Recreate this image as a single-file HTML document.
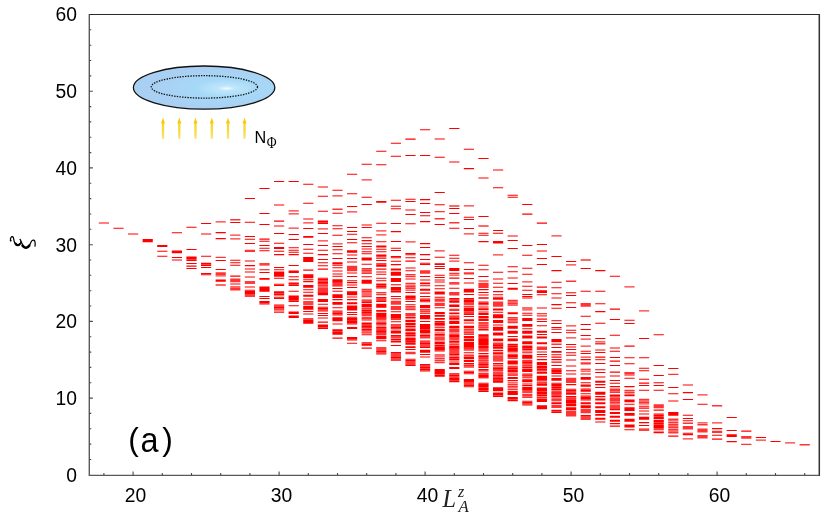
<!DOCTYPE html>
<html><head><meta charset="utf-8"><title>Entanglement spectrum</title>
<style>
html,body{margin:0;padding:0;background:#fff;}
body{width:830px;height:523px;overflow:hidden;font-family:"Liberation Sans",sans-serif;}
svg{display:block;will-change:transform;}
.tk text{font-family:"Liberation Sans",sans-serif;font-size:19.3px;fill:#000;}
</style></head><body>
<svg width="830" height="523" viewBox="0 0 830 523">
<defs>
<radialGradient id="eg" cx="0.66" cy="0.52" r="0.5" fx="0.66" fy="0.52" gradientTransform="translate(0.66 0.52) scale(1 0.9) translate(-0.66 -0.52)">
<stop offset="0" stop-color="#f4fbff"/><stop offset="0.12" stop-color="#bfe6fb"/><stop offset="0.45" stop-color="#a6d8f7"/><stop offset="1" stop-color="#a9d0f3"/>
</radialGradient>
<linearGradient id="ag" gradientUnits="userSpaceOnUse" x1="0" y1="118" x2="0" y2="139"><stop offset="0" stop-color="#f8d020"/><stop offset="0.7" stop-color="#f9da48"/><stop offset="1" stop-color="#fbe680"/></linearGradient>
</defs>
<rect width="830" height="523" fill="#fff"/>
<!-- data -->
<g>
<path d="M98.8 222.9h10.2M113.4 228.3h10.2M128.0 233.9h10.2M142.6 239.6h10.2M142.6 240.7h10.2M142.6 241.7h10.2M157.2 245.4h10.2M157.2 246.5h10.2M157.2 251.3h10.2M157.2 256.3h10.2M171.8 232.8h10.2M171.8 251.0h10.2M171.8 251.9h10.2M171.8 252.7h10.2M171.8 257.4h10.2M171.8 260.0h10.2M186.4 227.2h10.2M186.4 249.5h10.2M186.4 257.0h10.2M186.4 258.1h10.2M186.4 259.3h10.2M186.4 260.4h10.2M186.4 263.4h10.2M186.4 266.1h10.2M186.4 268.4h10.2M201.0 223.5h10.2M201.0 233.9h10.2M201.0 256.3h10.2M201.0 263.2h10.2M201.0 264.3h10.2M201.0 265.4h10.2M201.0 267.5h10.2M201.0 273.4h10.2M201.0 274.7h10.2M215.6 232.6h10.2M215.6 238.6h10.2M215.6 260.5h10.2M215.6 269.4h10.2M215.6 280.1h10.2M215.6 281.2h10.2M230.2 222.4h10.2M230.2 260.3h10.2M230.2 262.7h10.2M230.2 265.3h10.2M230.2 276.1h10.2M230.2 284.0h10.2M244.8 198.4h10.2M244.8 222.3h10.2M244.8 236.4h10.2M244.8 239.3h10.2M244.8 243.5h10.2M259.4 188.4h10.2M259.4 213.4h10.2M259.4 224.4h10.2M259.4 239.1h10.2M259.4 241.2h10.2M259.4 245.4h10.2M274.0 181.4h10.2M274.0 204.9h10.2M274.0 221.1h10.2M274.0 226.0h10.2M274.0 233.5h10.2M274.0 243.3h10.2M288.6 181.4h10.2M288.6 234.4h10.2M288.6 239.4h10.2M303.2 184.3h10.2M303.2 203.2h10.2M303.2 219.0h10.2M303.2 228.5h10.2M303.2 236.5h10.2M303.2 237.2h10.2M303.2 244.5h10.2M317.8 187.0h10.2M317.8 196.3h10.2M317.8 211.3h10.2M317.8 221.1h10.2M317.8 222.3h10.2M317.8 223.5h10.2M317.8 233.5h10.2M317.8 245.4h10.2M332.4 190.3h10.2M332.4 213.2h10.2M332.4 225.8h10.2M332.4 228.7h10.2M332.4 235.2h10.2M332.4 246.4h10.2M347.0 174.3h10.2M347.0 193.8h10.2M347.0 206.5h10.2M347.0 227.5h10.2M347.0 231.5h10.2M347.0 234.2h10.2M347.0 239.4h10.2M347.0 242.7h10.2M361.6 164.3h10.2M361.6 197.2h10.2M361.6 204.4h10.2M361.6 225.0h10.2M361.6 227.5h10.2M361.6 237.7h10.2M361.6 240.6h10.2M361.6 243.7h10.2M361.6 246.4h10.2M376.2 151.3h10.2M376.2 164.8h10.2M376.2 201.4h10.2M376.2 202.3h10.2M376.2 223.3h10.2M376.2 241.8h10.2M376.2 246.0h10.2M244.8 261.0h10.2M244.8 265.6h10.2M244.8 268.9h10.2M244.8 272.0h10.2M244.8 277.0h10.2M244.8 281.7h10.2M244.8 283.1h10.2M244.8 287.0h10.2M244.8 290.2h10.2M244.8 291.4h10.2M244.8 292.6h10.2M244.8 293.8h10.2M244.8 295.0h10.2M244.8 296.2h10.2M259.4 248.3h10.2M259.4 250.8h10.2M259.4 263.8h10.2M259.4 264.9h10.2M259.4 269.7h10.2M259.4 272.4h10.2M259.4 278.5h10.2M259.4 279.2h10.2M259.4 286.9h10.2M259.4 288.0h10.2M259.4 289.1h10.2M259.4 290.2h10.2M259.4 291.3h10.2M259.4 296.5h10.2M259.4 298.4h10.2M259.4 301.4h10.2M259.4 302.6h10.2M259.4 303.9h10.2M274.0 247.4h10.2M274.0 248.4h10.2M274.0 251.2h10.2M274.0 254.6h10.2M274.0 267.4h10.2M274.0 269.7h10.2M274.0 272.1h10.2M274.0 273.2h10.2M274.0 274.2h10.2M274.0 275.3h10.2M274.0 276.3h10.2M274.0 278.2h10.2M274.0 284.2h10.2M274.0 285.4h10.2M274.0 291.8h10.2M274.0 292.8h10.2M274.0 293.9h10.2M274.0 295.0h10.2M274.0 297.2h10.2M274.0 298.5h10.2M274.0 304.9h10.2M274.0 306.2h10.2M274.0 307.5h10.2M274.0 308.8h10.2M274.0 310.0h10.2M274.0 312.1h10.2M288.6 247.7h10.2M288.6 250.2h10.2M288.6 252.3h10.2M288.6 254.6h10.2M288.6 265.4h10.2M288.6 270.9h10.2M288.6 271.7h10.2M288.6 272.5h10.2M288.6 276.8h10.2M288.6 279.7h10.2M288.6 283.1h10.2M288.6 284.2h10.2M288.6 285.4h10.2M288.6 291.3h10.2M288.6 296.0h10.2M288.6 297.1h10.2M288.6 298.2h10.2M288.6 299.2h10.2M288.6 300.3h10.2M288.6 301.4h10.2M288.6 305.7h10.2M288.6 312.0h10.2M288.6 312.8h10.2M288.6 313.5h10.2M288.6 315.9h10.2M288.6 316.6h10.2M288.6 317.4h10.2M303.2 249.2h10.2M303.2 253.3h10.2M303.2 257.5h10.2M303.2 258.5h10.2M303.2 259.5h10.2M303.2 260.5h10.2M303.2 261.5h10.2M303.2 270.1h10.2M303.2 274.8h10.2M303.2 275.8h10.2M303.2 276.7h10.2M303.2 277.7h10.2M303.2 279.7h10.2M303.2 281.6h10.2M303.2 285.4h10.2M303.2 286.3h10.2M303.2 287.3h10.2M303.2 289.7h10.2M303.2 292.2h10.2M303.2 295.2h10.2M303.2 296.2h10.2M303.2 299.0h10.2M303.2 301.8h10.2M303.2 303.0h10.2M303.2 304.3h10.2M303.2 306.2h10.2M303.2 307.2h10.2M303.2 308.1h10.2M303.2 309.1h10.2M303.2 311.5h10.2M303.2 314.0h10.2M303.2 318.8h10.2M303.2 319.9h10.2M303.2 321.0h10.2M303.2 322.1h10.2M303.2 323.2h10.2M317.8 250.2h10.2M317.8 254.6h10.2M317.8 259.5h10.2M317.8 262.7h10.2M317.8 265.8h10.2M317.8 269.1h10.2M317.8 278.3h10.2M317.8 279.5h10.2M317.8 280.7h10.2M317.8 281.9h10.2M317.8 283.1h10.2M317.8 292.7h10.2M317.8 293.8h10.2M317.8 294.8h10.2M317.8 299.5h10.2M317.8 300.4h10.2M317.8 301.4h10.2M317.8 304.2h10.2M317.8 307.2h10.2M317.8 308.5h10.2M317.8 309.7h10.2M317.8 311.0h10.2M317.8 313.4h10.2M317.8 315.4h10.2M317.8 317.9h10.2M317.8 322.1h10.2M317.8 324.9h10.2M317.8 326.1h10.2M317.8 327.2h10.2M317.8 328.4h10.2M332.4 249.8h10.2M332.4 253.7h10.2M332.4 258.5h10.2M332.4 262.8h10.2M332.4 263.8h10.2M332.4 265.2h10.2M332.4 267.7h10.2M332.4 271.0h10.2M332.4 273.9h10.2M332.4 276.2h10.2M332.4 279.7h10.2M332.4 280.7h10.2M332.4 281.6h10.2M332.4 286.0h10.2M332.4 288.4h10.2M332.4 291.3h10.2M332.4 294.7h10.2M332.4 295.6h10.2M332.4 296.6h10.2M332.4 297.5h10.2M332.4 299.6h10.2M332.4 302.4h10.2M332.4 303.3h10.2M332.4 304.3h10.2M332.4 307.7h10.2M332.4 311.0h10.2M332.4 312.3h10.2M332.4 313.6h10.2M332.4 314.9h10.2M332.4 317.8h10.2M332.4 318.7h10.2M332.4 319.7h10.2M332.4 320.6h10.2M332.4 324.0h10.2M332.4 329.7h10.2M332.4 330.8h10.2M332.4 331.9h10.2M332.4 333.0h10.2M332.4 334.1h10.2M332.4 338.1h10.2M347.0 250.7h10.2M347.0 251.5h10.2M347.0 252.2h10.2M347.0 255.0h10.2M347.0 258.5h10.2M347.0 262.0h10.2M347.0 273.0h10.2M347.0 276.4h10.2M347.0 280.7h10.2M347.0 282.6h10.2M347.0 284.9h10.2M347.0 287.4h10.2M347.0 291.8h10.2M347.0 292.7h10.2M347.0 293.7h10.2M347.0 294.6h10.2M347.0 297.0h10.2M347.0 299.6h10.2M347.0 302.8h10.2M347.0 303.8h10.2M347.0 306.0h10.2M347.0 307.1h10.2M347.0 308.0h10.2M347.0 309.1h10.2M347.0 310.0h10.2M347.0 312.5h10.2M347.0 314.4h10.2M347.0 317.3h10.2M347.0 318.6h10.2M347.0 319.7h10.2M347.0 321.6h10.2M347.0 322.7h10.2M347.0 324.0h10.2M347.0 327.4h10.2M347.0 328.4h10.2M347.0 337.6h10.2M347.0 338.8h10.2M347.0 339.9h10.2M347.0 343.3h10.2M361.6 248.9h10.2M361.6 251.7h10.2M361.6 253.7h10.2M361.6 258.0h10.2M361.6 259.0h10.2M361.6 259.9h10.2M361.6 264.3h10.2M361.6 276.8h10.2M361.6 280.2h10.2M361.6 281.2h10.2M361.6 282.1h10.2M361.6 283.1h10.2M361.6 299.9h10.2M361.6 301.3h10.2M361.6 302.6h10.2M361.6 304.4h10.2M361.6 305.4h10.2M361.6 306.4h10.2M361.6 307.9h10.2M361.6 310.4h10.2M361.6 311.7h10.2M361.6 312.7h10.2M361.6 314.0h10.2M361.6 315.2h10.2M361.6 317.3h10.2M361.6 320.0h10.2M361.6 323.0h10.2M361.6 324.1h10.2M361.6 326.6h10.2M361.6 329.1h10.2M361.6 330.1h10.2M361.6 333.0h10.2M361.6 334.8h10.2M361.6 342.8h10.2M361.6 344.0h10.2M361.6 345.1h10.2M361.6 348.1h10.2M376.2 246.9h10.2M376.2 249.2h10.2M376.2 251.7h10.2M376.2 255.1h10.2M376.2 256.1h10.2M376.2 258.1h10.2M376.2 260.4h10.2M376.2 263.8h10.2M376.2 265.0h10.2M376.2 266.1h10.2M376.2 269.1h10.2M376.2 272.0h10.2M376.2 274.3h10.2M376.2 278.2h10.2M376.2 280.7h10.2M376.2 284.1h10.2M376.2 285.3h10.2M376.2 286.6h10.2M376.2 287.9h10.2M376.2 297.5h10.2M376.2 298.8h10.2M376.2 300.1h10.2M376.2 301.4h10.2M376.2 304.3h10.2M376.2 305.2h10.2M376.2 306.2h10.2M376.2 307.2h10.2M376.2 310.5h10.2M376.2 311.7h10.2M376.2 313.5h10.2M376.2 314.4h10.2M376.2 315.5h10.2M376.2 316.6h10.2M376.2 318.8h10.2M376.2 320.0h10.2M376.2 322.1h10.2M376.2 323.4h10.2M376.2 324.3h10.2M376.2 325.9h10.2M376.2 327.4h10.2M376.2 330.8h10.2M376.2 331.8h10.2M376.2 336.5h10.2M376.2 337.5h10.2M376.2 338.6h10.2M376.2 340.8h10.2M376.2 347.7h10.2M376.2 348.9h10.2M376.2 350.2h10.2M376.2 351.5h10.2M376.2 352.7h10.2M376.2 354.0h10.2M390.8 143.3h10.2M390.8 156.3h10.2M390.8 200.2h10.2M405.4 139.1h10.2M405.4 155.5h10.2M405.4 199.3h10.2M405.4 201.4h10.2M420.0 129.7h10.2M420.0 155.5h10.2M420.0 199.6h10.2M420.0 203.5h10.2M434.6 138.9h10.2M434.6 157.2h10.2M434.6 192.5h10.2M434.6 204.7h10.2M449.2 128.5h10.2M449.2 161.9h10.2M463.8 149.3h10.2M463.8 168.6h10.2M478.4 158.4h10.2M478.4 177.9h10.2M493.0 170.0h10.2M493.0 187.7h10.2M507.6 195.2h10.2M507.6 197.3h10.2M522.2 204.5h10.2M390.8 206.2h10.2M390.8 208.7h10.2M390.8 223.5h10.2M390.8 231.6h10.2M390.8 241.4h10.2M390.8 248.2h10.2M390.8 250.5h10.2M390.8 256.4h10.2M390.8 257.7h10.2M390.8 261.3h10.2M390.8 264.6h10.2M390.8 268.9h10.2M390.8 269.9h10.2M390.8 272.2h10.2M390.8 273.2h10.2M390.8 274.1h10.2M390.8 275.1h10.2M390.8 278.6h10.2M390.8 279.5h10.2M390.8 280.5h10.2M390.8 281.4h10.2M390.8 284.8h10.2M390.8 287.6h10.2M390.8 288.7h10.2M390.8 289.8h10.2M390.8 290.9h10.2M390.8 292.0h10.2M390.8 296.4h10.2M405.4 210.0h10.2M405.4 214.5h10.2M405.4 223.7h10.2M405.4 253.5h10.2M405.4 254.8h10.2M405.4 257.8h10.2M405.4 261.1h10.2M405.4 267.9h10.2M405.4 270.7h10.2M405.4 279.0h10.2M405.4 292.5h10.2M405.4 295.9h10.2M405.4 296.7h10.2M405.4 297.4h10.2M420.0 212.5h10.2M420.0 215.8h10.2M420.0 221.6h10.2M420.0 243.6h10.2M420.0 247.4h10.2M420.0 254.6h10.2M420.0 259.4h10.2M420.0 263.2h10.2M420.0 264.5h10.2M420.0 276.5h10.2M420.0 280.0h10.2M420.0 283.0h10.2M420.0 283.7h10.2M420.0 285.8h10.2M420.0 289.2h10.2M420.0 290.1h10.2M420.0 293.1h10.2M420.0 296.4h10.2M434.6 224.5h10.2M434.6 257.3h10.2M434.6 263.7h10.2M434.6 264.5h10.2M434.6 266.5h10.2M434.6 268.4h10.2M434.6 275.2h10.2M434.6 277.5h10.2M434.6 280.0h10.2M434.6 281.9h10.2M434.6 285.8h10.2M434.6 288.7h10.2M434.6 292.1h10.2M434.6 293.0h10.2M434.6 294.0h10.2M434.6 297.2h10.2M449.2 208.5h10.2M449.2 213.5h10.2M449.2 228.3h10.2M449.2 255.3h10.2M449.2 258.2h10.2M449.2 268.4h10.2M449.2 269.4h10.2M449.2 270.4h10.2M449.2 278.1h10.2M449.2 282.8h10.2M449.2 283.9h10.2M449.2 288.3h10.2M463.8 217.3h10.2M463.8 219.5h10.2M463.8 228.5h10.2M463.8 262.7h10.2M463.8 269.4h10.2M463.8 278.5h10.2M463.8 282.9h10.2M463.8 289.2h10.2M463.8 290.1h10.2M463.8 291.1h10.2M463.8 292.0h10.2M463.8 294.5h10.2M478.4 216.4h10.2M478.4 233.2h10.2M478.4 235.3h10.2M478.4 241.6h10.2M478.4 265.2h10.2M478.4 269.8h10.2M478.4 276.5h10.2M478.4 281.0h10.2M478.4 289.6h10.2M478.4 292.5h10.2M478.4 295.0h10.2M478.4 297.7h10.2M493.0 230.5h10.2M493.0 233.3h10.2M493.0 241.4h10.2M493.0 242.1h10.2M493.0 242.9h10.2M493.0 272.3h10.2M493.0 279.0h10.2M493.0 283.3h10.2M493.0 287.3h10.2M493.0 291.6h10.2M493.0 294.8h10.2M493.0 297.3h10.2M507.6 236.0h10.2M507.6 240.5h10.2M507.6 248.4h10.2M507.6 266.7h10.2M507.6 271.7h10.2M507.6 277.9h10.2M507.6 283.5h10.2M507.6 288.2h10.2M507.6 289.1h10.2M522.2 214.1h10.2M522.2 245.5h10.2M522.2 255.3h10.2M522.2 268.2h10.2M522.2 274.2h10.2M522.2 286.2h10.2M522.2 290.2h10.2M522.2 294.5h10.2M522.2 296.4h10.2M390.8 298.8h10.2M390.8 311.7h10.2M390.8 314.5h10.2M390.8 315.5h10.2M390.8 316.4h10.2M390.8 317.4h10.2M390.8 321.7h10.2M390.8 324.7h10.2M390.8 326.9h10.2M390.8 327.9h10.2M390.8 331.0h10.2M390.8 332.0h10.2M390.8 332.9h10.2M390.8 335.4h10.2M390.8 336.8h10.2M390.8 337.9h10.2M390.8 339.4h10.2M390.8 341.0h10.2M390.8 342.0h10.2M390.8 345.4h10.2M390.8 352.4h10.2M390.8 353.7h10.2M390.8 355.0h10.2M390.8 356.3h10.2M390.8 357.6h10.2M390.8 358.9h10.2M390.8 360.2h10.2M405.4 301.4h10.2M405.4 304.8h10.2M405.4 317.2h10.2M405.4 318.0h10.2M405.4 320.2h10.2M405.4 320.9h10.2M405.4 321.6h10.2M405.4 323.5h10.2M405.4 324.6h10.2M405.4 326.2h10.2M405.4 327.0h10.2M405.4 329.0h10.2M405.4 329.8h10.2M405.4 330.6h10.2M405.4 332.8h10.2M405.4 333.6h10.2M405.4 334.3h10.2M405.4 335.4h10.2M405.4 337.0h10.2M405.4 338.4h10.2M405.4 339.6h10.2M405.4 341.6h10.2M405.4 343.0h10.2M405.4 344.1h10.2M405.4 346.7h10.2M405.4 347.5h10.2M405.4 349.4h10.2M405.4 359.2h10.2M405.4 360.5h10.2M405.4 361.7h10.2M405.4 363.0h10.2M405.4 364.2h10.2M405.4 365.5h10.2M420.0 299.1h10.2M420.0 300.4h10.2M420.0 301.7h10.2M420.0 305.4h10.2M420.0 306.6h10.2M420.0 307.8h10.2M420.0 315.4h10.2M420.0 316.5h10.2M420.0 317.5h10.2M420.0 318.6h10.2M420.0 321.5h10.2M420.0 324.4h10.2M420.0 325.5h10.2M420.0 326.6h10.2M420.0 327.7h10.2M420.0 328.8h10.2M420.0 329.9h10.2M420.0 331.0h10.2M420.0 332.0h10.2M420.0 333.0h10.2M420.0 334.9h10.2M420.0 336.1h10.2M420.0 341.0h10.2M420.0 342.3h10.2M420.0 343.6h10.2M420.0 344.9h10.2M420.0 346.2h10.2M420.0 347.5h10.2M420.0 350.3h10.2M420.0 351.3h10.2M420.0 352.3h10.2M420.0 354.5h10.2M420.0 357.0h10.2M420.0 364.5h10.2M420.0 365.8h10.2M420.0 367.1h10.2M420.0 368.3h10.2M420.0 369.6h10.2M420.0 370.9h10.2M434.6 307.8h10.2M434.6 312.4h10.2M434.6 313.1h10.2M434.6 313.8h10.2M434.6 315.4h10.2M434.6 316.2h10.2M434.6 318.4h10.2M434.6 319.2h10.2M434.6 321.4h10.2M434.6 322.2h10.2M434.6 323.5h10.2M434.6 324.6h10.2M434.6 329.5h10.2M434.6 330.6h10.2M434.6 333.0h10.2M434.6 334.5h10.2M434.6 335.7h10.2M434.6 337.2h10.2M434.6 338.8h10.2M434.6 339.9h10.2M434.6 342.0h10.2M434.6 343.0h10.2M434.6 344.0h10.2M434.6 345.6h10.2M434.6 346.2h10.2M434.6 347.6h10.2M434.6 348.8h10.2M434.6 349.7h10.2M434.6 351.0h10.2M434.6 369.4h10.2M434.6 370.5h10.2M434.6 371.6h10.2M434.6 372.7h10.2M434.6 373.8h10.2M434.6 374.9h10.2M434.6 376.1h10.2M449.2 298.5h10.2M449.2 299.8h10.2M449.2 301.1h10.2M449.2 302.3h10.2M449.2 305.1h10.2M449.2 305.8h10.2M449.2 306.5h10.2M449.2 313.0h10.2M449.2 313.8h10.2M449.2 316.0h10.2M449.2 317.3h10.2M449.2 318.5h10.2M449.2 319.8h10.2M449.2 321.4h10.2M449.2 322.4h10.2M449.2 323.4h10.2M449.2 326.2h10.2M449.2 326.9h10.2M449.2 327.6h10.2M449.2 333.0h10.2M449.2 334.7h10.2M449.2 335.7h10.2M449.2 336.8h10.2M449.2 338.0h10.2M449.2 339.2h10.2M449.2 341.1h10.2M449.2 342.2h10.2M449.2 344.1h10.2M449.2 346.1h10.2M449.2 347.3h10.2M449.2 348.2h10.2M449.2 350.7h10.2M449.2 351.9h10.2M449.2 353.2h10.2M449.2 354.4h10.2M449.2 357.2h10.2M449.2 358.2h10.2M449.2 359.4h10.2M449.2 360.9h10.2M449.2 363.1h10.2M449.2 363.8h10.2M449.2 364.5h10.2M449.2 367.4h10.2M449.2 368.5h10.2M449.2 373.7h10.2M449.2 374.9h10.2M449.2 376.0h10.2M449.2 377.2h10.2M449.2 378.4h10.2M449.2 379.5h10.2M449.2 380.7h10.2M449.2 381.8h10.2M463.8 298.5h10.2M463.8 299.3h10.2M463.8 300.4h10.2M463.8 301.6h10.2M463.8 303.0h10.2M463.8 304.2h10.2M463.8 306.3h10.2M463.8 308.1h10.2M463.8 309.1h10.2M463.8 310.1h10.2M463.8 311.0h10.2M463.8 314.5h10.2M463.8 316.4h10.2M463.8 319.7h10.2M463.8 320.7h10.2M463.8 323.0h10.2M463.8 326.2h10.2M463.8 326.9h10.2M463.8 327.6h10.2M463.8 336.5h10.2M463.8 337.2h10.2M463.8 337.9h10.2M463.8 339.6h10.2M463.8 340.8h10.2M463.8 342.4h10.2M463.8 343.5h10.2M463.8 344.6h10.2M463.8 345.7h10.2M463.8 346.6h10.2M463.8 348.8h10.2M463.8 352.7h10.2M463.8 357.6h10.2M463.8 358.6h10.2M463.8 360.5h10.2M463.8 361.5h10.2M463.8 363.5h10.2M463.8 365.8h10.2M463.8 371.3h10.2M463.8 372.5h10.2M463.8 373.8h10.2M463.8 379.4h10.2M463.8 380.6h10.2M463.8 381.8h10.2M463.8 383.0h10.2M463.8 384.2h10.2M463.8 385.4h10.2M463.8 386.7h10.2M478.4 298.3h10.2M478.4 302.1h10.2M478.4 303.4h10.2M478.4 304.7h10.2M478.4 307.0h10.2M478.4 308.8h10.2M478.4 309.6h10.2M478.4 311.9h10.2M478.4 313.6h10.2M478.4 314.4h10.2M478.4 316.6h10.2M478.4 317.4h10.2M478.4 319.0h10.2M478.4 319.7h10.2M478.4 320.4h10.2M478.4 322.7h10.2M478.4 323.9h10.2M478.4 328.9h10.2M478.4 330.0h10.2M478.4 334.8h10.2M478.4 335.7h10.2M478.4 338.7h10.2M478.4 339.8h10.2M478.4 340.8h10.2M478.4 341.8h10.2M478.4 342.7h10.2M478.4 343.6h10.2M478.4 344.8h10.2M478.4 346.0h10.2M478.4 346.9h10.2M478.4 348.1h10.2M478.4 349.7h10.2M478.4 350.9h10.2M478.4 353.5h10.2M478.4 355.2h10.2M478.4 356.5h10.2M478.4 360.0h10.2M478.4 362.7h10.2M478.4 364.0h10.2M478.4 365.0h10.2M478.4 366.2h10.2M478.4 367.4h10.2M478.4 369.6h10.2M478.4 370.9h10.2M478.4 373.2h10.2M478.4 375.4h10.2M478.4 376.6h10.2M478.4 383.2h10.2M478.4 384.4h10.2M478.4 385.6h10.2M478.4 386.8h10.2M478.4 387.9h10.2M478.4 389.1h10.2M478.4 390.3h10.2M478.4 391.5h10.2M493.0 298.4h10.2M493.0 299.3h10.2M493.0 309.0h10.2M493.0 309.9h10.2M493.0 312.3h10.2M493.0 314.8h10.2M493.0 315.7h10.2M493.0 316.7h10.2M493.0 317.6h10.2M493.0 320.6h10.2M493.0 321.5h10.2M493.0 322.5h10.2M493.0 324.9h10.2M493.0 327.3h10.2M493.0 328.3h10.2M493.0 329.2h10.2M493.0 330.2h10.2M493.0 333.1h10.2M493.0 334.0h10.2M493.0 335.0h10.2M493.0 338.9h10.2M493.0 339.8h10.2M493.0 340.8h10.2M493.0 345.2h10.2M493.0 346.2h10.2M493.0 347.4h10.2M493.0 348.8h10.2M493.0 350.6h10.2M493.0 352.8h10.2M493.0 353.8h10.2M493.0 356.8h10.2M493.0 358.1h10.2M493.0 359.7h10.2M493.0 360.9h10.2M493.0 363.4h10.2M493.0 365.1h10.2M493.0 366.9h10.2M493.0 368.3h10.2M493.0 369.2h10.2M493.0 372.0h10.2M493.0 373.3h10.2M493.0 374.7h10.2M493.0 375.6h10.2M493.0 377.0h10.2M493.0 378.3h10.2M493.0 379.2h10.2M493.0 381.2h10.2M493.0 382.2h10.2M507.6 312.8h10.2M507.6 313.8h10.2M507.6 326.3h10.2M507.6 327.3h10.2M507.6 328.2h10.2M507.6 331.2h10.2M507.6 332.1h10.2M507.6 333.1h10.2M507.6 336.4h10.2M507.6 338.9h10.2M507.6 339.8h10.2M507.6 340.8h10.2M507.6 344.2h10.2M507.6 345.3h10.2M507.6 346.6h10.2M507.6 347.9h10.2M507.6 348.9h10.2M507.6 349.9h10.2M507.6 351.0h10.2M507.6 354.3h10.2M507.6 355.6h10.2M507.6 356.8h10.2M507.6 358.1h10.2M507.6 361.0h10.2M507.6 362.0h10.2M507.6 362.9h10.2M507.6 363.9h10.2M507.6 366.3h10.2M507.6 367.7h10.2M507.6 368.8h10.2M507.6 369.9h10.2M507.6 370.9h10.2M507.6 371.9h10.2M507.6 375.1h10.2M507.6 377.4h10.2M507.6 378.5h10.2M507.6 380.6h10.2M522.2 297.9h10.2M522.2 313.3h10.2M522.2 315.2h10.2M522.2 318.6h10.2M522.2 319.6h10.2M522.2 320.5h10.2M522.2 324.4h10.2M522.2 325.4h10.2M522.2 326.3h10.2M522.2 328.7h10.2M522.2 331.2h10.2M522.2 332.1h10.2M522.2 333.1h10.2M522.2 336.0h10.2M522.2 336.9h10.2M522.2 337.9h10.2M522.2 341.8h10.2M522.2 342.7h10.2M522.2 343.7h10.2M522.2 346.1h10.2M522.2 347.3h10.2M522.2 348.3h10.2M522.2 349.5h10.2M522.2 350.9h10.2M522.2 352.7h10.2M522.2 355.3h10.2M522.2 356.2h10.2M522.2 357.2h10.2M522.2 358.1h10.2M522.2 361.7h10.2M522.2 362.8h10.2M522.2 363.9h10.2M522.2 367.0h10.2M522.2 368.0h10.2M522.2 369.4h10.2M522.2 370.4h10.2M522.2 371.5h10.2M522.2 374.0h10.2M522.2 375.2h10.2M522.2 377.7h10.2M522.2 379.8h10.2M522.2 380.8h10.2M522.2 381.8h10.2M522.2 384.0h10.2M522.2 385.6h10.2M522.2 387.6h10.2M522.2 388.8h10.2M522.2 389.7h10.2M522.2 390.9h10.2M522.2 392.2h10.2M493.0 387.7h10.2M493.0 388.7h10.2M493.0 389.6h10.2M493.0 390.6h10.2M493.0 392.9h10.2M493.0 394.1h10.2M493.0 395.2h10.2M493.0 396.4h10.2M507.6 391.6h10.2M507.6 392.5h10.2M507.6 393.5h10.2M507.6 394.4h10.2M507.6 397.4h10.2M507.6 398.5h10.2M507.6 399.7h10.2M507.6 400.8h10.2M522.2 401.2h10.2M522.2 402.5h10.2M522.2 403.8h10.2M522.2 405.0h10.2M536.8 223.1h10.2M536.8 244.5h10.2M536.8 250.9h10.2M536.8 258.4h10.2M536.8 264.4h10.2M536.8 287.1h10.2M536.8 290.7h10.2M536.8 291.6h10.2M536.8 292.4h10.2M536.8 294.8h10.2M551.4 256.5h10.2M551.4 270.6h10.2M551.4 282.3h10.2M551.4 287.7h10.2M551.4 293.7h10.2M566.0 261.5h10.2M566.0 292.7h10.2M566.0 295.4h10.2M580.6 268.4h10.2M580.6 291.2h10.2M595.2 270.6h10.2M595.2 291.2h10.2M609.8 276.3h10.2M536.8 307.9h10.2M536.8 313.7h10.2M536.8 319.1h10.2M536.8 321.4h10.2M536.8 325.7h10.2M536.8 331.2h10.2M536.8 332.1h10.2M536.8 334.5h10.2M536.8 336.9h10.2M536.8 337.9h10.2M536.8 342.7h10.2M536.8 343.7h10.2M536.8 351.9h10.2M536.8 354.4h10.2M536.8 356.7h10.2M536.8 359.6h10.2M536.8 362.5h10.2M536.8 363.4h10.2M536.8 364.5h10.2M536.8 366.0h10.2M536.8 367.0h10.2M536.8 368.0h10.2M536.8 369.2h10.2M536.8 370.1h10.2M536.8 372.0h10.2M536.8 373.1h10.2M536.8 376.3h10.2M536.8 377.3h10.2M536.8 378.2h10.2M536.8 379.2h10.2M536.8 380.2h10.2M536.8 382.0h10.2M536.8 383.2h10.2M536.8 384.4h10.2M536.8 388.0h10.2M536.8 388.8h10.2M536.8 389.5h10.2M551.4 297.9h10.2M551.4 304.6h10.2M551.4 308.3h10.2M551.4 323.5h10.2M551.4 327.4h10.2M551.4 329.3h10.2M551.4 332.4h10.2M551.4 339.5h10.2M551.4 340.6h10.2M551.4 341.7h10.2M551.4 347.4h10.2M551.4 351.4h10.2M551.4 352.3h10.2M551.4 354.8h10.2M551.4 357.1h10.2M551.4 359.6h10.2M551.4 362.1h10.2M551.4 365.4h10.2M551.4 368.8h10.2M551.4 369.9h10.2M551.4 371.1h10.2M551.4 372.3h10.2M551.4 373.5h10.2M551.4 376.0h10.2M551.4 378.4h10.2M551.4 379.3h10.2M551.4 380.3h10.2M551.4 383.2h10.2M551.4 384.4h10.2M551.4 385.5h10.2M551.4 386.7h10.2M551.4 387.8h10.2M551.4 389.0h10.2M566.0 302.7h10.2M566.0 307.5h10.2M566.0 330.3h10.2M566.0 344.5h10.2M566.0 347.0h10.2M566.0 349.4h10.2M566.0 352.8h10.2M566.0 355.3h10.2M566.0 360.0h10.2M566.0 365.9h10.2M566.0 370.8h10.2M566.0 374.0h10.2M566.0 384.6h10.2M566.0 389.3h10.2M580.6 316.2h10.2M580.6 324.5h10.2M580.6 329.5h10.2M580.6 335.5h10.2M580.6 351.3h10.2M580.6 353.4h10.2M580.6 359.6h10.2M580.6 369.2h10.2M580.6 374.0h10.2M580.6 377.4h10.2M580.6 378.4h10.2M580.6 379.3h10.2M580.6 382.7h10.2M580.6 385.1h10.2M580.6 386.1h10.2M580.6 389.1h10.2M595.2 303.7h10.2M595.2 311.6h10.2M595.2 323.3h10.2M595.2 338.4h10.2M595.2 349.9h10.2M595.2 352.4h10.2M595.2 357.1h10.2M595.2 363.4h10.2M595.2 369.8h10.2M595.2 372.5h10.2M595.2 376.9h10.2M595.2 381.3h10.2M595.2 382.2h10.2M595.2 384.6h10.2M595.2 387.5h10.2M609.8 309.1h10.2M609.8 319.5h10.2M609.8 335.3h10.2M609.8 348.0h10.2M609.8 351.3h10.2M609.8 357.5h10.2M609.8 361.1h10.2M609.8 365.4h10.2M609.8 372.1h10.2M609.8 376.0h10.2M609.8 380.4h10.2M609.8 383.3h10.2M609.8 386.6h10.2M624.4 320.3h10.2M624.4 323.5h10.2M624.4 346.1h10.2M624.4 357.7h10.2M624.4 363.8h10.2M624.4 375.0h10.2M624.4 378.3h10.2M624.4 386.6h10.2M639.0 338.4h10.2M639.0 357.7h10.2M639.0 368.3h10.2M639.0 370.8h10.2M639.0 379.2h10.2M639.0 383.1h10.2M639.0 385.4h10.2M653.6 334.7h10.2M653.6 365.4h10.2M653.6 375.4h10.2M653.6 382.7h10.2M653.6 385.4h10.2M668.2 368.4h10.2M668.2 387.5h10.2M536.8 390.0h10.2M536.8 391.0h10.2M536.8 392.3h10.2M536.8 393.3h10.2M536.8 394.3h10.2M536.8 395.5h10.2M536.8 397.1h10.2M536.8 399.5h10.2M536.8 400.6h10.2M536.8 401.5h10.2M536.8 405.7h10.2M536.8 406.7h10.2M536.8 407.6h10.2M536.8 408.6h10.2M551.4 390.0h10.2M551.4 391.7h10.2M551.4 393.7h10.2M551.4 395.1h10.2M551.4 396.5h10.2M551.4 398.0h10.2M551.4 400.8h10.2M551.4 402.8h10.2M551.4 403.8h10.2M551.4 410.2h10.2M551.4 411.3h10.2M551.4 412.5h10.2M566.0 390.5h10.2M566.0 391.7h10.2M566.0 392.9h10.2M566.0 394.1h10.2M566.0 396.6h10.2M566.0 398.9h10.2M566.0 400.2h10.2M566.0 401.2h10.2M566.0 402.1h10.2M566.0 403.2h10.2M566.0 404.6h10.2M566.0 405.7h10.2M566.0 407.7h10.2M566.0 408.6h10.2M566.0 409.6h10.2M580.6 390.5h10.2M580.6 391.2h10.2M580.6 393.7h10.2M580.6 396.1h10.2M580.6 397.4h10.2M580.6 398.6h10.2M580.6 399.9h10.2M580.6 402.8h10.2M580.6 403.8h10.2M580.6 405.7h10.2M580.6 406.7h10.2M580.6 407.6h10.2M580.6 415.4h10.2M580.6 416.7h10.2M580.6 417.9h10.2M580.6 419.2h10.2M595.2 392.2h10.2M595.2 393.2h10.2M595.2 394.1h10.2M595.2 396.6h10.2M595.2 399.0h10.2M595.2 399.9h10.2M595.2 402.8h10.2M595.2 403.8h10.2M595.2 406.7h10.2M595.2 407.6h10.2M595.2 410.6h10.2M595.2 411.5h10.2M595.2 412.5h10.2M595.2 414.4h10.2M595.2 415.3h10.2M595.2 418.3h10.2M595.2 419.2h10.2M595.2 422.0h10.2M609.8 395.1h10.2M609.8 396.1h10.2M609.8 405.7h10.2M609.8 407.0h10.2M609.8 408.3h10.2M609.8 409.6h10.2M609.8 412.5h10.2M609.8 413.4h10.2M609.8 416.3h10.2M609.8 417.3h10.2M609.8 420.2h10.2M609.8 421.1h10.2M609.8 423.6h10.2M609.8 426.1h10.2M624.4 395.6h10.2M624.4 400.0h10.2M624.4 400.9h10.2M624.4 401.8h10.2M624.4 404.3h10.2M624.4 407.7h10.2M624.4 408.6h10.2M624.4 409.6h10.2M624.4 410.5h10.2M624.4 413.5h10.2M624.4 414.4h10.2M624.4 415.3h10.2M624.4 419.2h10.2M624.4 420.2h10.2M624.4 421.1h10.2M624.4 425.0h10.2M624.4 426.0h10.2M624.4 426.9h10.2M624.4 429.7h10.2M639.0 390.2h10.2M639.0 406.2h10.2M639.0 408.1h10.2M639.0 411.0h10.2M639.0 413.9h10.2M639.0 417.3h10.2M639.0 418.3h10.2M639.0 419.2h10.2M639.0 422.6h10.2M639.0 425.5h10.2M639.0 428.9h10.2M639.0 430.2h10.2M653.6 390.2h10.2M653.6 410.1h10.2M653.6 413.9h10.2M653.6 415.3h10.2M653.6 416.2h10.2M653.6 417.6h10.2M653.6 418.6h10.2M653.6 420.6h10.2M653.6 421.5h10.2M653.6 422.7h10.2M653.6 423.7h10.2M653.6 425.1h10.2M653.6 426.1h10.2M653.6 427.2h10.2M653.6 428.2h10.2M653.6 429.7h10.2M653.6 431.9h10.2M653.6 432.8h10.2M668.2 393.7h10.2M668.2 401.0h10.2M668.2 412.5h10.2M668.2 413.4h10.2M668.2 414.4h10.2M668.2 415.3h10.2M668.2 436.1h10.2M682.8 385.0h10.2M682.8 392.6h10.2M682.8 399.5h10.2M682.8 415.2h10.2M682.8 418.5h10.2M682.8 420.8h10.2M682.8 433.3h10.2M682.8 434.6h10.2M697.4 404.3h10.2M712.0 428.6h10.2M712.0 435.3h10.2M712.0 439.1h10.2M726.6 417.5h10.2M726.6 430.5h10.2M726.6 434.8h10.2M726.6 435.7h10.2M726.6 436.5h10.2M726.6 441.6h10.2M741.2 431.1h10.2M755.8 437.4h10.2M770.4 441.4h10.2" stroke="#ff0000" stroke-width="1.05" fill="none"/>
<path d="M215.6 221.8h10.2M215.6 257.4h10.2M215.6 273.0h10.2M215.6 274.4h10.2M215.6 275.8h10.2M215.6 285.0h10.2M230.2 219.7h10.2M230.2 235.1h10.2M230.2 238.9h10.2M230.2 279.2h10.2M230.2 280.4h10.2M230.2 281.6h10.2M230.2 286.9h10.2M230.2 288.3h10.2M230.2 289.7h10.2M288.6 210.9h10.2M288.6 213.8h10.2M288.6 228.1h10.2M303.2 222.9h10.2M317.8 228.8h10.2M317.8 240.8h10.2M332.4 195.9h10.2M332.4 209.2h10.2M332.4 243.9h10.2M347.0 211.9h10.2M361.6 179.9h10.2M376.2 230.8h10.2M376.2 234.8h10.2M244.8 250.5h10.2M244.8 251.2h10.2M317.8 284.1h10.2M317.8 285.6h10.2M317.8 287.1h10.2M317.8 288.7h10.2M317.8 290.2h10.2M317.8 291.7h10.2M332.4 282.7h10.2M332.4 283.9h10.2M332.4 285.0h10.2M347.0 266.3h10.2M347.0 267.7h10.2M347.0 269.1h10.2M347.0 270.5h10.2M347.0 320.6h10.2M361.6 268.6h10.2M361.6 270.2h10.2M361.6 271.8h10.2M361.6 273.4h10.2M361.6 289.5h10.2M361.6 291.2h10.2M361.6 293.0h10.2M361.6 294.8h10.2M361.6 296.5h10.2M361.6 309.0h10.2M361.6 318.6h10.2M361.6 325.4h10.2M361.6 327.6h10.2M361.6 331.8h10.2M376.2 292.7h10.2M376.2 294.6h10.2M376.2 317.7h10.2M376.2 328.6h10.2M376.2 329.9h10.2M376.2 332.7h10.2M376.2 333.7h10.2M376.2 334.8h10.2M405.4 241.8h10.2M405.4 274.7h10.2M405.4 276.6h10.2M405.4 283.4h10.2M405.4 285.1h10.2M405.4 286.7h10.2M405.4 288.4h10.2M405.4 290.1h10.2M420.0 270.9h10.2M420.0 272.0h10.2M420.0 273.1h10.2M434.6 211.6h10.2M434.6 218.7h10.2M434.6 250.9h10.2M449.2 206.0h10.2M449.2 222.7h10.2M449.2 261.1h10.2M449.2 273.4h10.2M449.2 275.1h10.2M449.2 292.6h10.2M449.2 293.8h10.2M449.2 294.9h10.2M463.8 205.8h10.2M463.8 233.9h10.2M463.8 272.8h10.2M463.8 273.7h10.2M478.4 226.0h10.2M478.4 283.4h10.2M478.4 284.7h10.2M478.4 285.9h10.2M478.4 287.2h10.2M493.0 254.9h10.2M522.2 281.9h10.2M390.8 301.3h10.2M390.8 302.7h10.2M390.8 304.1h10.2M390.8 306.6h10.2M390.8 307.9h10.2M390.8 309.2h10.2M390.8 318.4h10.2M390.8 319.2h10.2M390.8 325.9h10.2M390.8 328.9h10.2M405.4 298.5h10.2M405.4 299.3h10.2M405.4 306.6h10.2M405.4 308.1h10.2M405.4 309.6h10.2M405.4 313.6h10.2M405.4 314.6h10.2M405.4 315.6h10.2M405.4 340.5h10.2M405.4 352.4h10.2M405.4 353.5h10.2M420.0 309.7h10.2M420.0 311.4h10.2M420.0 313.2h10.2M420.0 337.7h10.2M434.6 299.1h10.2M434.6 300.1h10.2M434.6 301.1h10.2M434.6 303.3h10.2M434.6 304.3h10.2M434.6 305.3h10.2M434.6 325.9h10.2M434.6 327.6h10.2M434.6 355.0h10.2M434.6 356.9h10.2M434.6 358.7h10.2M434.6 360.6h10.2M434.6 362.5h10.2M449.2 309.4h10.2M449.2 310.2h10.2M449.2 329.2h10.2M449.2 330.2h10.2M449.2 331.2h10.2M449.2 349.2h10.2M449.2 355.9h10.2M463.8 312.2h10.2M463.8 313.2h10.2M463.8 329.5h10.2M463.8 331.1h10.2M463.8 332.7h10.2M463.8 334.3h10.2M463.8 347.7h10.2M463.8 350.0h10.2M463.8 355.1h10.2M463.8 356.1h10.2M463.8 364.9h10.2M463.8 367.0h10.2M478.4 325.5h10.2M478.4 327.2h10.2M478.4 336.7h10.2M478.4 337.7h10.2M478.4 357.6h10.2M478.4 358.5h10.2M478.4 361.0h10.2M478.4 374.3h10.2M478.4 377.7h10.2M493.0 302.2h10.2M493.0 303.5h10.2M493.0 304.8h10.2M493.0 306.1h10.2M493.0 343.2h10.2M493.0 344.3h10.2M493.0 355.1h10.2M493.0 370.3h10.2M493.0 380.2h10.2M507.6 300.3h10.2M507.6 301.9h10.2M507.6 303.5h10.2M507.6 305.1h10.2M507.6 317.7h10.2M507.6 319.3h10.2M507.6 320.9h10.2M507.6 322.5h10.2M507.6 351.9h10.2M507.6 373.9h10.2M522.2 308.0h10.2M522.2 309.9h10.2M522.2 360.5h10.2M522.2 365.5h10.2M522.2 376.1h10.2M507.6 382.9h10.2M507.6 384.6h10.2M507.6 386.3h10.2M507.6 387.9h10.2M507.6 389.6h10.2M522.2 394.5h10.2M522.2 395.9h10.2M522.2 397.3h10.2M551.4 235.9h10.2M566.0 264.8h10.2M566.0 281.2h10.2M580.6 260.0h10.2M624.4 286.9h10.2M536.8 315.8h10.2M536.8 347.2h10.2M536.8 348.3h10.2M536.8 349.4h10.2M536.8 385.4h10.2M551.4 320.6h10.2M551.4 344.2h10.2M566.0 325.8h10.2M566.0 332.6h10.2M566.0 337.8h10.2M566.0 378.4h10.2M566.0 379.7h10.2M566.0 380.9h10.2M566.0 382.2h10.2M580.6 303.6h10.2M580.6 304.8h10.2M580.6 306.1h10.2M580.6 339.1h10.2M580.6 346.1h10.2M580.6 357.1h10.2M580.6 363.0h10.2M580.6 363.9h10.2M580.6 371.1h10.2M595.2 341.8h10.2M595.2 343.7h10.2M595.2 359.6h10.2M609.8 389.1h10.2M624.4 372.6h10.2M624.4 373.5h10.2M639.0 310.8h10.2M668.2 374.4h10.2M536.8 398.1h10.2M551.4 392.7h10.2M551.4 399.3h10.2M551.4 405.7h10.2M551.4 407.2h10.2M566.0 398.0h10.2M566.0 411.5h10.2M566.0 413.0h10.2M566.0 414.5h10.2M566.0 415.9h10.2M580.6 409.6h10.2M580.6 411.0h10.2M580.6 412.5h10.2M609.8 390.5h10.2M609.8 392.2h10.2M609.8 398.0h10.2M609.8 399.5h10.2M609.8 400.9h10.2M609.8 402.3h10.2M609.8 403.8h10.2M624.4 390.5h10.2M624.4 392.3h10.2M624.4 394.1h10.2M639.0 399.4h10.2M639.0 400.8h10.2M639.0 402.3h10.2M639.0 403.8h10.2M653.6 404.8h10.2M653.6 406.2h10.2M653.6 407.6h10.2M668.2 419.2h10.2M668.2 420.9h10.2M668.2 422.6h10.2M668.2 424.3h10.2M668.2 426.0h10.2M668.2 427.6h10.2M668.2 429.3h10.2M668.2 431.0h10.2M668.2 432.7h10.2M682.8 423.2h10.2M682.8 426.6h10.2M682.8 427.7h10.2M682.8 428.9h10.2M682.8 438.9h10.2M697.4 394.9h10.2M697.4 422.8h10.2M697.4 424.7h10.2M697.4 429.1h10.2M697.4 430.5h10.2M697.4 431.9h10.2M697.4 435.6h10.2M697.4 436.6h10.2M697.4 437.7h10.2M712.0 405.7h10.2M712.0 422.9h10.2M712.0 431.4h10.2M712.0 432.3h10.2M741.2 436.7h10.2M741.2 438.0h10.2M741.2 444.3h10.2M755.8 440.1h10.2M785.0 442.9h10.2M799.6 444.7h10.2" stroke="#ff0000" stroke-opacity="0.8" stroke-width="1.35" fill="none"/>
</g>
<!-- frame -->
<path d="M88.8 14.5H819.9" stroke="#2a2a2a" stroke-width="1.05" fill="none"/>
<path d="M819.3 14.2V476.0" stroke="#333" stroke-width="1.5" fill="none"/>
<path d="M89.3 14.5V475.4H819.3" stroke="#5a5a5a" stroke-width="1.4" fill="none"/>
<path d="M103.9 475.4v-2.4M133.1 475.4v-4.0M162.3 475.4v-2.4M191.5 475.4v-2.4M220.7 475.4v-2.4M249.9 475.4v-2.4M279.1 475.4v-4.0M308.3 475.4v-2.4M337.5 475.4v-2.4M366.7 475.4v-2.4M395.9 475.4v-2.4M425.1 475.4v-4.0M454.3 475.4v-2.4M483.5 475.4v-2.4M512.7 475.4v-2.4M541.9 475.4v-2.4M571.1 475.4v-4.0M600.3 475.4v-2.4M629.5 475.4v-2.4M658.7 475.4v-2.4M687.9 475.4v-2.4M717.1 475.4v-4.0M746.3 475.4v-2.4M775.5 475.4v-2.4M804.7 475.4v-2.4M89.3 459.5h2.0M89.3 444.1h2.0M89.3 428.8h2.0M89.3 413.4h2.0M89.3 398.1h3.5M89.3 382.7h2.0M89.3 367.4h2.0M89.3 352.1h2.0M89.3 336.7h2.0M89.3 321.4h3.5M89.3 306.0h2.0M89.3 290.7h2.0M89.3 275.3h2.0M89.3 260.0h2.0M89.3 244.7h3.5M89.3 229.3h2.0M89.3 214.0h2.0M89.3 198.6h2.0M89.3 183.3h2.0M89.3 167.9h3.5M89.3 152.6h2.0M89.3 137.2h2.0M89.3 121.9h2.0M89.3 106.6h2.0M89.3 91.2h3.5M89.3 75.9h2.0M89.3 60.5h2.0M89.3 45.2h2.0M89.3 29.8h2.0" stroke="#4a4a4a" stroke-width="1.1" fill="none"/>
<g class="tk"><text x="77" y="481.7" text-anchor="end">0</text><text x="77" y="405.0" text-anchor="end">10</text><text x="77" y="328.3" text-anchor="end">20</text><text x="77" y="251.6" text-anchor="end">30</text><text x="77" y="174.8" text-anchor="end">40</text><text x="77" y="98.1" text-anchor="end">50</text><text x="77" y="21.4" text-anchor="end">60</text><text x="135.5" y="502.3" text-anchor="middle">20</text><text x="281.5" y="502.3" text-anchor="middle">30</text><text x="427.5" y="502.3" text-anchor="middle">40</text><text x="573.5" y="502.3" text-anchor="middle">50</text><text x="719.5" y="502.3" text-anchor="middle">60</text></g>
<!-- inset -->
<ellipse cx="204.1" cy="87.6" rx="70.7" ry="21.6" fill="url(#eg)" stroke="#111" stroke-width="1.3"/>
<ellipse cx="204.4" cy="86.9" rx="53.1" ry="11.2" fill="none" stroke="#111" stroke-width="1.3" stroke-dasharray="1.4 1.25"/>
<rect x="161.85" y="121" width="2.3" height="17.9" fill="url(#ag)"/><path d="M163.0 117.4l2 6.2h-4z" fill="#f7cd08"/><rect x="178.15" y="121" width="2.3" height="17.9" fill="url(#ag)"/><path d="M179.3 117.4l2 6.2h-4z" fill="#f7cd08"/><rect x="194.35" y="121" width="2.3" height="17.9" fill="url(#ag)"/><path d="M195.5 117.4l2 6.2h-4z" fill="#f7cd08"/><rect x="210.65" y="121" width="2.3" height="17.9" fill="url(#ag)"/><path d="M211.8 117.4l2 6.2h-4z" fill="#f7cd08"/><rect x="226.85" y="121" width="2.3" height="17.9" fill="url(#ag)"/><path d="M228.0 117.4l2 6.2h-4z" fill="#f7cd08"/><rect x="243.35" y="121" width="2.3" height="17.9" fill="url(#ag)"/><path d="M244.5 117.4l2 6.2h-4z" fill="#f7cd08"/>
<text x="254.6" y="142.7" font-family="Liberation Sans, sans-serif" font-size="16.2px" fill="#000">N</text>
<text transform="translate(266.7 147.6) scale(0.84 1)" font-family="Liberation Serif, serif" font-size="16px" fill="#000">&#934;</text>
<!-- labels -->
<text x="128.3" y="449.9" font-family="Liberation Sans, sans-serif" font-size="31.7px" fill="#000">(</text>
<text x="162.2" y="449.9" font-family="Liberation Sans, sans-serif" font-size="31.7px" fill="#000">)</text>
<text transform="translate(140.6 452.1) scale(0.9 1)" font-family="Liberation Sans, sans-serif" font-size="36px" fill="#000">a</text>
<text x="442.6" y="507" font-family="Liberation Serif, serif" font-style="italic" font-size="24.3px" fill="#222">L</text>
<text x="458.5" y="511.9" font-family="Liberation Serif, serif" font-style="italic" font-size="16.8px" fill="#222">A</text>
<text x="457.9" y="497.1" font-family="Liberation Serif, serif" font-style="italic" font-size="16px" fill="#222">z</text>
<g fill="none" stroke="#000" stroke-linecap="round" stroke-linejoin="round">
<path d="M10.5 240.6C10.2 238 11.3 236.3 12.6 236.7C14 237.2 13.6 240 14.4 242C15.3 244.3 17 245.5 18.4 245.1C20 244.6 21.1 242.5 20.7 240.5C20.4 239.2 19.7 239.1 20.2 239.7C21.3 241 21.7 244 23.5 246.5C24.8 248.2 27 248.5 28.5 246.8C30 245 30.6 242 32 240.6C33.2 239.5 34.6 240 35 242C35.3 243.5 35.2 245 35 246.2" stroke-width="1.25"/>
<path d="M15.6 243.6C16.6 245.3 18.3 245.6 19.6 244.2" stroke-width="2.3"/>
<path d="M22.6 245.6C24.2 248.3 27.4 248.6 29.2 245.6" stroke-width="2.7"/>
<circle cx="10.7" cy="240.6" r="0.9" fill="#000" stroke="none"/>
</g>
</svg>
</body></html>
